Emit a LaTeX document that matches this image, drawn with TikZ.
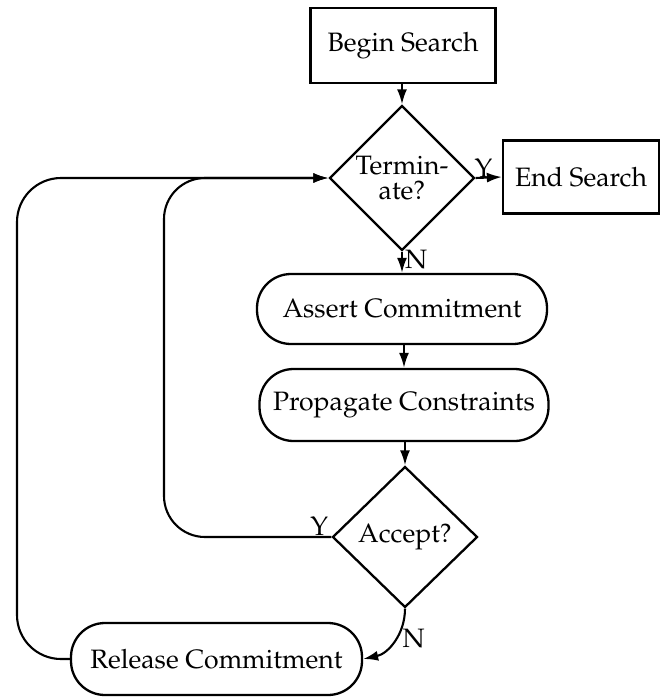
\documentclass[tikz,border=0pt]{standalone}
\usepackage[T1]{fontenc}
\usepackage{mathpazo}
\usetikzlibrary{shapes.geometric,arrows.meta}
\begin{document}
\begin{tikzpicture}[x=1pt,y=-1pt,
  every node/.style={font=\fontsize{26.6}{25}\selectfont},
  box/.style={draw, line width=2.3pt, rectangle, inner sep=0pt},
  pill/.style={box, rounded corners=34pt},
  dia/.style={draw, line width=2.3pt, diamond, inner sep=0pt, minimum width=145pt},
  lnk/.style={line width=2.1pt},
  arr/.style={lnk, -{Latex[length=15pt,width=10pt]}},
  lab/.style={inner sep=1pt}]
\useasboundingbox (0,0) rectangle (661,697);
% nodes
\node[box, minimum width=185pt, minimum height=75pt] (begin) at (403,45.5) {Begin Search};
\node[dia, minimum height=145pt, label={[align=center]center:Termin-\\ate?}] (term) at (402,178) {};
\node[box, minimum width=156pt, minimum height=73pt] (endS) at (581,177) {End Search};
\node[pill, minimum width=290pt, minimum height=70pt] (assert) at (402,309) {Assert Commitment};
\node[pill, minimum width=289pt, minimum height=72pt] (prop) at (404,405) {Propagate Constraints};
\node[dia, minimum height=141pt, label={center:Accept?}] (accept) at (405,537) {};
\node[pill, minimum width=291pt, minimum height=72pt] (release) at (216.5,659) {Release Commitment};
\coordinate (innerx) at (164,0);
\coordinate (outerx) at (17,0);
% connectors
\draw[arr] (begin.south -| term.north) -- (term.north);
\draw[arr] (term.east) -- (endS.west) node[lab, pos=0.3, above, yshift=-2pt] {Y};
\draw[arr] (term.south) -- (term.south |- assert.north) node[lab, pos=0.35, right, xshift=1pt] {N};
\draw[arr] (assert.south -| 404,0) -- (prop.north);
\draw[arr] (prop.south -| accept.north) -- (accept.north);
\draw[arr, rounded corners=41pt] (accept.west) -- (accept.west -| innerx) -- (innerx |- term.west) -- (term.west);
\node[lab, above left] at ([xshift=-2pt]accept.west) {Y};
\draw[arr, rounded corners=44pt] (release.west) -- (release.west -| outerx) -- (outerx |- term.west) -- (term.west);
\draw[arr] (accept.south) to[out=-90, in=12] node[lab, pos=0.45, right, xshift=5pt] {N} (release.east);
\end{tikzpicture}
\end{document}
